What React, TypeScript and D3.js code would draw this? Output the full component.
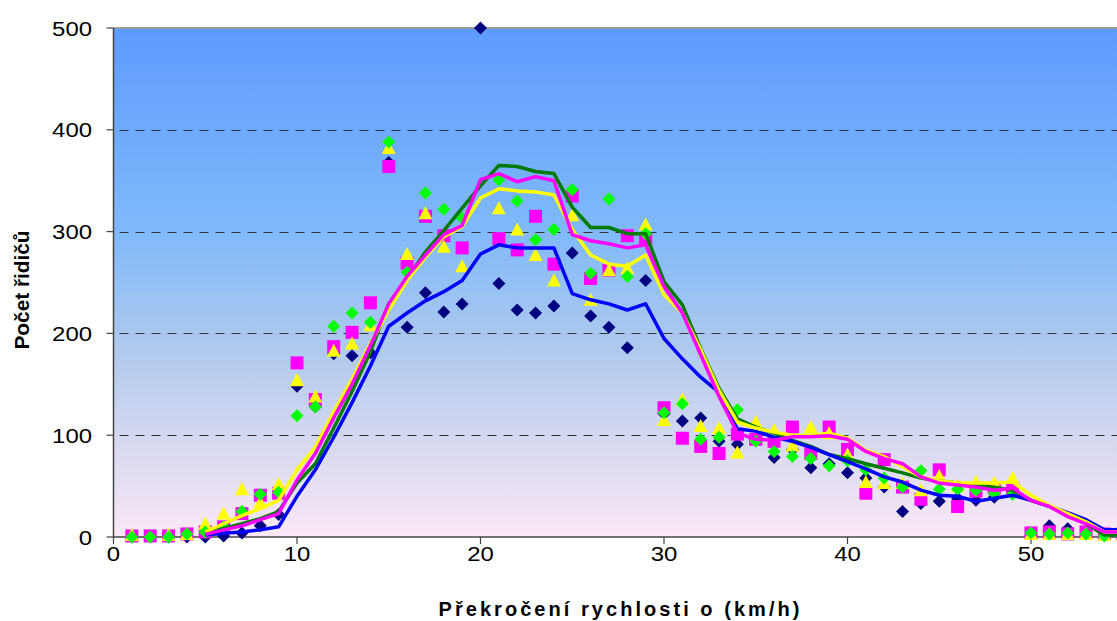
import React from "react";
import * as d3 from "d3";

// Speed excess in km/h (x positions of all series)
const speeds = [
  1, 2, 3, 4, 5, 6, 7, 8, 9, 10, 11, 12, 13, 14, 15, 16, 17, 18, 19, 20,
  21, 22, 23, 24, 25, 26, 27, 28, 29, 30, 31, 32, 33, 34, 35, 36, 37, 38, 39, 40,
  41, 42, 43, 44, 45, 46, 47, 48, 49, 50, 51, 52, 53, 54, 55,
];

// Measured driver counts per speed excess (null = no measurement)
const navyCounts = [
  0, 0, 0, 0, 0, 1, 4, 11, 22, 148, 128, 180, 178, 181, 368, 206, 240, 221, 229, 500,
  249, 223, 220, 227, 279, 217, 206, 186, 252, 121, 114, 117, 94, 91, 96, 78, 86, 68, 72, 63,
  58, 49, 25, 33, 35, 38, 36, 39, 45, 3, 11, 8, 4, 2, 1,
];
const greenCounts = [
  0, 0, 0, 3, 5, 10, 25, 42, 44, 119, 128, 207, 220, 211, 388, 260, 338, 322, 313, null,
  351, 330, 292, 302, 341, 259, 332, 256, 298, 122, 131, 96, 98, 125, 94, 84, 79, 77, 70, 75,
  66, 58, 49, 65, 47, 47, 46, 43, 42, 4, 3, 4, 3, 1, 1,
];
const magentaCounts = [
  1, 1, 1, 3, 5, 10, 23, 41, 43, 171, 135, 187, 201, 230, 364, 269, 315, 296, 284, null,
  293, 282, 315, 268, 335, 254, 262, 296, 292, 127, 97, 89, 82, 101, 96, 94, 108, 82, 108, 86,
  43, 76, 49, 37, 66, 30, 45, 48, 48, 4, 5, 3, 5, 3, 3,
];
const yellowCounts = [
  2, null, 2, 3, 13, 23, 47, 34, 52, 154, 138, 183, 190, 208, 382, 278, 318, 285, 266, null,
  323, 302, 277, 252, 316, 233, 262, 264, 307, 115, 135, 109, 107, 83, 113, 105, 90, 108, 102, 81,
  54, 53, 53, 46, 60, 50, 54, 53, 58, 3, 3, 3, 3, 2, 2,
];

// Smoothed trend per series
const blueTrend = [
  null, null, null, null, 2, 3.6, 5, 7, 10, 40, 66, 98, 132, 168, 207, 220, 232, 241, 252, 278,
  287, 284, 284, 284, 239, 233, 229, 223, 229, 195, 175, 157, 142, 106, 104, 98, 94, 88, 81, 74,
  67, 59, 54, 46, 41, 40, 35, 38, 41, 36, 30, 24, 17, 7, 7,
];
const greenTrend = [
  null, null, null, null, 4, 8.5, 13, 18, 25, 53, 72, 107, 143, 182, 229, 254, 280, 301, 323, 345,
  365, 364, 359, 357, 324, 304, 304, 298, 298, 251, 228, 185, 146, 116, 108, 102, 95, 89, 81, 77,
  72, 67.5, 63, 58, 55, 53, 51, 49, 46, 36, 30, 22, 13, 2, 2,
];
const magentaTrend = [
  null, null, null, null, 2.6, 7, 11, 17, 23, 56, 82, 117, 150, 188, 229, 256, 277, 297, 306, 351,
  357, 349, 354, 350, 297, 291, 288, 284, 287, 246, 220, 179, 138, 102, 96, 95, 98.5, 98.5, 99.5, 96,
  84, 77, 72, 59, 53, 51, 49, 46, 48, 36, 30, 20, 13, 5, 5,
];
const yellowTrend = [
  null, null, null, null, 5, 13, 21, 28, 36, 66, 88, 123, 155, 190, 223, 252, 275, 295, 305, 333,
  342, 340, 339, 336, 302, 277, 268, 266, 277, 238, 220, 184, 144, 113, 107, 103, 100, 100, 102, 97,
  85, 79, 69, 59, 55, 53, 53, 53, 54, 41, 31, 23, 15, 5, 5,
];

const xTicks = [0, 10, 20, 30, 40, 50];
const yTicks = [0, 100, 200, 300, 400, 500];
const yGrid = [100, 200, 300, 400];

const W = 1117;
const H = 621;
const left = 113.5;
const top = 28;
const bottom = 537;

const x = d3.scaleLinear().domain([0, 55]).range([left, left + 55 * 18.35]);
const y = d3.scaleLinear().domain([0, 500]).range([bottom, top]);

type Pt = { s: number; v: number | null };
const zip = (vals: (number | null)[]): Pt[] => speeds.map((s, i) => ({ s, v: vals[i] }));

const diamond = (r: number) => `M0,${-r}L${r},0L0,${r}L${-r},0Z`;
const square = (h: number) => `M${-h},${-h}H${h}V${h}H${-h}Z`;
const triangle = (w: number, h: number) => `M0,${-h / 2 - 1}L${w / 2},${h / 2}L${-w / 2},${h / 2}Z`;

const markerSeries = [
  { vals: navyCounts, color: "#000080", path: diamond(6.5) },
  { vals: magentaCounts, color: "#FF00FF", path: square(6.5) },
  { vals: yellowCounts, color: "#FFFF00", path: triangle(14, 12) },
  { vals: greenCounts, color: "#00FF00", path: diamond(6.5) },
];

const trendSeries = [
  { vals: greenTrend, color: "#007A00" },
  { vals: blueTrend, color: "#0000FF" },
  { vals: yellowTrend, color: "#FFFF00" },
  { vals: magentaTrend, color: "#FF00FF" },
];

const line = d3
  .line<Pt>()
  .defined((d) => d.v != null)
  .x((d) => x(d.s))
  .y((d) => y(d.v as number));

const font = "'Liberation Sans', Arial, sans-serif";
// tick labels are set slightly wide
const stretch = 1.14;

export default function App() {
  return (
    <svg
      width={W}
      height={H}
      style={{ position: "absolute", left: 0, top: 0, background: "#fff", fontFamily: font }}
    >
      <defs>
        <linearGradient id="plotBg" x1="0" y1="0" x2="0" y2="1">
          <stop offset="0%" stopColor="#5e9bff" />
          <stop offset="40%" stopColor="#80b9fa" />
          <stop offset="62%" stopColor="#adc9ee" />
          <stop offset="82%" stopColor="#d7d9f0" />
          <stop offset="100%" stopColor="#fbe8f7" />
        </linearGradient>
      </defs>

      <rect x={left} y={top} width={W - left} height={bottom - top} fill="url(#plotBg)" />
      <line x1={left} x2={W} y1={top} y2={top} stroke="#9a9a9a" strokeWidth={2} />

      {yGrid.map((t) => (
        <line
          key={t}
          x1={left}
          x2={W}
          y1={Math.round(y(t)) + 0.5}
          y2={Math.round(y(t)) + 0.5}
          stroke="#333"
          strokeWidth={1}
          strokeDasharray="9,7"
          strokeDashoffset={-6}
        />
      ))}

      {/* axes */}
      <line x1={left} x2={left} y1={top} y2={bottom} stroke="#444" strokeWidth={1.5} />
      <line x1={left} x2={W} y1={bottom} y2={bottom} stroke="#444" strokeWidth={1.5} />
      {yTicks.map((t) => (
        <g key={t}>
          <line x1={left - 7} x2={left} y1={y(t)} y2={y(t)} stroke="#444" strokeWidth={1.2} />
          <text
            transform={`translate(92,${y(t) + 7.5}) scale(${stretch},1)`}
            textAnchor="end"
            fontSize={21}
            fill="#000"
          >
            {t}
          </text>
        </g>
      ))}
      {xTicks.map((t) => (
        <g key={t}>
          <line x1={x(t)} x2={x(t)} y1={bottom} y2={bottom + 7} stroke="#444" strokeWidth={1.2} />
          <text
            transform={`translate(${x(t)},561) scale(${stretch},1)`}
            textAnchor="middle"
            fontSize={21}
            fill="#000"
          >
            {t}
          </text>
        </g>
      ))}

      {/* measured points */}
      {markerSeries.map((ser, si) => (
        <g key={si} fill={ser.color}>
          {zip(ser.vals)
            .filter((d) => d.v != null)
            .map((d) => (
              <path key={d.s} d={ser.path} transform={`translate(${x(d.s)},${y(d.v as number)})`} />
            ))}
        </g>
      ))}

      {/* trend lines */}
      {trendSeries.map((ser, si) => (
        <path
          key={si}
          d={line(zip(ser.vals)) || ""}
          fill="none"
          stroke={ser.color}
          strokeWidth={3.5}
          strokeLinejoin="round"
        />
      ))}

      <text
        x={619}
        y={616}
        textAnchor="middle"
        fontSize={20}
        fontWeight="bold"
        textLength={361}
        lengthAdjust="spacing"
      >
        Překročení rychlosti o (km/h)
      </text>
      <text
        transform="translate(29,290) rotate(-90)"
        textAnchor="middle"
        fontSize={20}
        fontWeight="bold"
        textLength={119}
        lengthAdjust="spacingAndGlyphs"
      >
        Počet řidičů
      </text>
    </svg>
  );
}
